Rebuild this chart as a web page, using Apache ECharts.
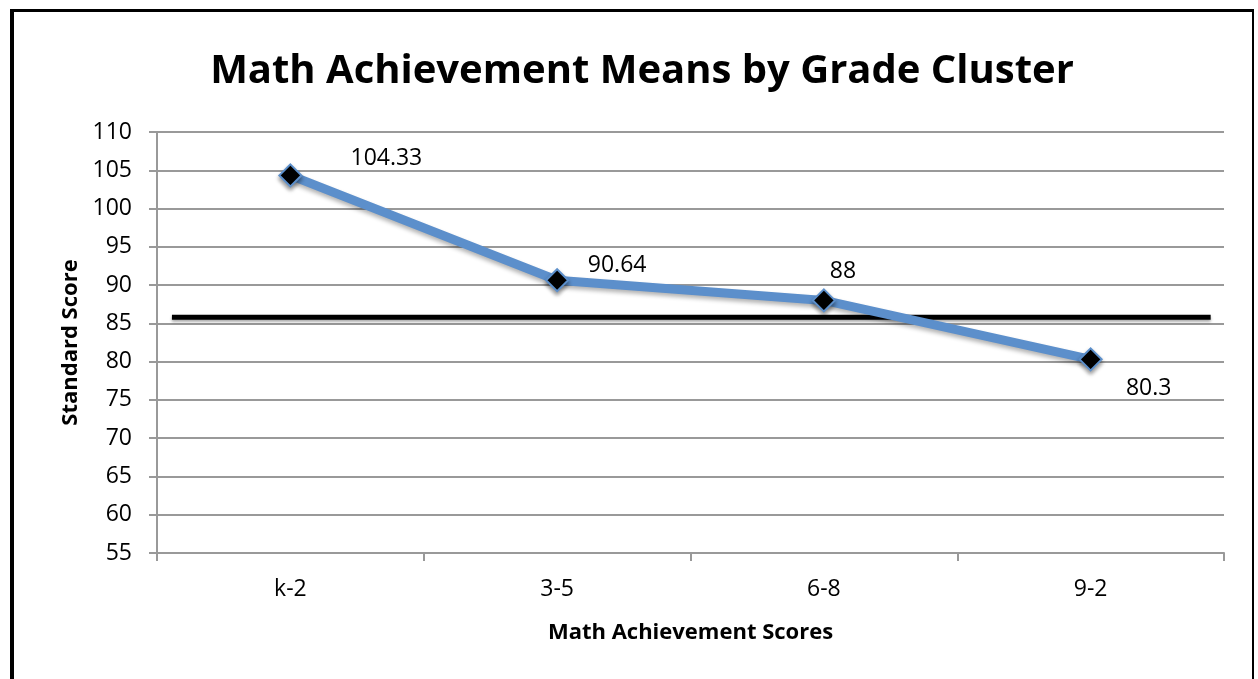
<!DOCTYPE html>
<html>
<head>
<meta charset="utf-8">
<style>
html, body { margin: 0; padding: 0; background: #fff; }
.frame {
  position: absolute;
  left: 10px; top: 9px;
  width: 1238px; height: 700px;
  border-left: 4px solid #000;
  border-top: 3px solid #000;
  border-right: 2px solid #000;
}
#main { position: absolute; left: 0; top: 0; width: 1258px; height: 679px; }
</style>
<script src="https://cdn.jsdelivr.net/npm/echarts@6/dist/echarts.min.js"></script>
</head>
<body>
<div class="frame"></div>
<div id="main"></div>
<script>
// 数据
var categories = ['k-2', '3-5', '6-8', '9-2']
var means = [104.33, 90.64, 88, 80.3]
var benchmark = 85.8
var benchmarkSpan = [0.056, 3.95]
var labelOffsets = [[96, -17], [60, -15], [19, -29], [58, 29]]

var myChart = echarts.init(document.getElementById('main'))
var font = '"Open Sans", sans-serif'

myChart.setOption({
  animation: false,
  title: {
    text: 'Math Achievement Means by Grade Cluster',
    left: 637,
    top: 47,
    textAlign: 'center',
    textStyle: { fontFamily: font, fontWeight: 'bold', fontSize: 40, color: '#000' }
  },
  grid: { left: 157, right: 34, top: 132, bottom: 126, containLabel: false },
  xAxis: [{
    type: 'category',
    data: categories,
    name: 'Math Achievement Scores',
    nameLocation: 'middle',
    nameGap: 69,
    nameTextStyle: { fontFamily: font, fontWeight: 'bold', fontSize: 22, color: '#000' },
    axisLine: { lineStyle: { color: '#999', width: 2 } },
    axisTick: { show: true, interval: 0, length: 8, lineStyle: { color: '#999', width: 2 } },
    axisLabel: { margin: 25, fontFamily: font, fontSize: 23, color: '#000' }
  }, {
    type: 'value',
    min: 0,
    max: 4,
    show: false
  }],
  yAxis: {
    type: 'value',
    min: 55,
    max: 110,
    interval: 5,
    name: 'Standard Score',
    nameLocation: 'middle',
    nameGap: 74,
    nameTextStyle: { fontFamily: font, fontWeight: 'bold', fontSize: 22, color: '#000' },
    axisLine: { show: true, lineStyle: { color: '#999', width: 2 } },
    axisTick: { show: true, length: 8, lineStyle: { color: '#999', width: 2 } },
    axisLabel: { margin: 25, fontFamily: font, fontSize: 23, color: '#000' },
    splitLine: { lineStyle: { color: '#999', width: 2 } }
  },
  series: [{
    name: 'benchmark',
    type: 'line',
    xAxisIndex: 1,
    symbol: 'none',
    data: benchmarkSpan.map(function (x) { return [x, benchmark] }),
    lineStyle: { color: '#000', width: 5, shadowColor: 'rgba(0,0,0,0.35)', shadowBlur: 3, shadowOffsetY: 2 },
    z: 3
  }, {
    name: 'mean',
    type: 'line',
    data: means.map(function (v, i) {
      return { value: v, label: { offset: labelOffsets[i] } }
    }),
    symbol: 'diamond',
    symbolSize: 22,
    lineStyle: { color: '#5C8FCB', width: 9, shadowColor: 'rgba(0,0,0,0.3)', shadowBlur: 4, shadowOffsetY: 3 },
    itemStyle: { color: '#000', borderColor: '#5C8FCB', borderWidth: 2, shadowColor: 'rgba(0,0,0,0.4)', shadowBlur: 4, shadowOffsetY: 3 },
    label: {
      show: true,
      position: 'inside',
      fontFamily: font,
      fontSize: 23,
      color: '#000'
    },
    z: 4
  }]
})
</script>
</body>
</html>
